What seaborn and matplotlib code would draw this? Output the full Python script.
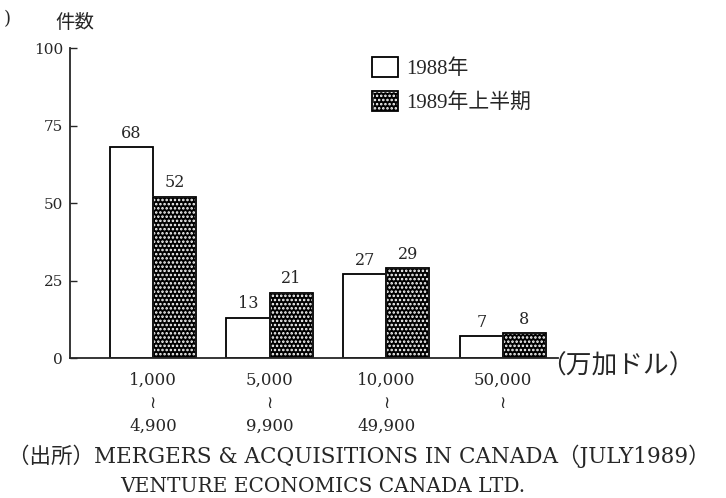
import pandas as pd
import matplotlib
matplotlib.use('Agg')
import matplotlib.pyplot as plt
import seaborn as sns
from matplotlib.patches import Rectangle

# データ
ranges = ['1,000\n≀\n4,900', '5,000\n≀\n9,900', '10,000\n≀\n49,900', '50,000\n≀\n']
years = ['1988年', '1989年上半期']
counts_1988 = [68, 13, 27, 7]
counts_1989 = [52, 21, 29, 8]
y_ticks = [0, 25, 50, 75, 100]

SERIF = ['DejaVu Serif', 'DejaVu Sans', 'Noto Sans CJK JP']
NARROW = ['Liberation Serif', 'DejaVu Sans', 'Noto Sans CJK JP']


def main():
    df = pd.DataFrame({
        'range': ranges * 2,
        'year': [years[0]] * 4 + [years[1]] * 4,
        'count': counts_1988 + counts_1989,
    })

    sns.set_style('ticks')
    plt.rcParams['font.family'] = SERIF
    plt.rcParams['hatch.linewidth'] = 1.2

    fig = plt.figure(figsize=(7.26, 4.98), dpi=100)
    ax = fig.add_axes([0.0964, 0.281, 0.672, 0.6225])

    sns.barplot(data=df, x='range', y='count', hue='year', hue_order=years,
                palette=['white', 'black'], edgecolor='black', linewidth=1.3,
                width=0.74, legend=False, ax=ax)

    # 1989年: 黒地に白い網点
    for p in ax.containers[1]:
        p.set_edgecolor('white')
        p.set_hatch('....')
        ax.add_patch(Rectangle(p.get_xy(), p.get_width(), p.get_height(),
                               fill=False, ec='black', lw=1.3, zorder=p.get_zorder() + 0.1))

    for c in ax.containers:
        ax.bar_label(c, fmt='%d', padding=4, fontsize=11.5)

    ax.set_ylim(0, 100)
    ax.set_xlim(-0.711, 3.471)
    ax.set_yticks(y_ticks)
    ax.tick_params(axis='y', direction='in', length=5, width=1, labelsize=11, pad=5)
    ax.tick_params(axis='x', length=0, labelsize=12, pad=10)
    for lab in ax.get_xticklabels():
        lab.set_linespacing(1.45)
    ax.set_xlabel('')
    ax.set_ylabel('')
    sns.despine(ax=ax)
    ax.spines['left'].set_linewidth(1.3)
    ax.spines['bottom'].set_linewidth(1.3)

    # 凡例
    white_h = Rectangle((0, 0), 1, 1, fc='white', ec='black', lw=1.3)
    dot_h = Rectangle((0, 0), 1, 1, fc='black', ec='white', hatch='....')
    edge_h = Rectangle((0, 0), 1, 1, fill=False, ec='black', lw=1.3)
    fig.legend([white_h, (dot_h, edge_h)], years, loc='upper left',
               bbox_to_anchor=(372 / 726, 1 - 57 / 498), frameon=False,
               prop={'family': NARROW, 'size': 15},
               handlelength=1.25, handleheight=1.1,
               handletextpad=0.4, labelspacing=0.55, borderpad=0, borderaxespad=0)

    fig.text(75 / 726, 1 - 23 / 498, '件数', fontsize=14, ha='center', va='center')
    fig.text(7 / 726, 1 - 19 / 498, ')', fontsize=13, ha='center', va='center')
    fig.text(540 / 726, 1 - 366 / 498, '（万加ドル）', fontsize=18.5, ha='left', va='center')

    fig.text(8 / 726, 1 - 456 / 498,
             '（出所）MERGERS & ACQUISITIONS IN CANADA（JULY1989）',
             fontsize=15.5, ha='left', va='center')
    fig.text(120 / 726, 1 - 486 / 498, 'VENTURE ECONOMICS CANADA LTD.',
             fontsize=14.5, ha='left', va='center')

    fig.savefig('out.png', dpi=100)


if __name__ == "__main__":
    main()
